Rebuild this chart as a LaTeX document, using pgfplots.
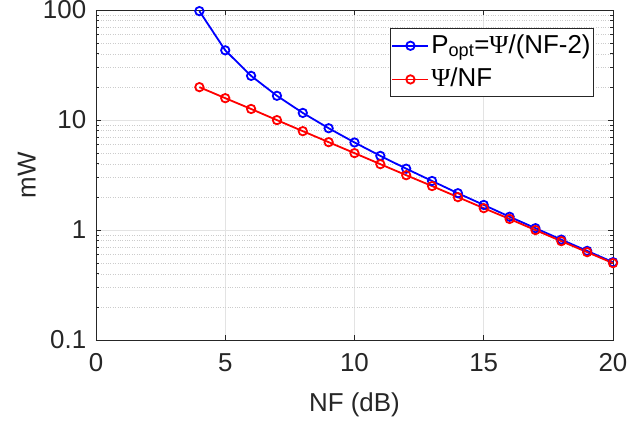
\documentclass[border=0pt]{standalone}
\usepackage{pgfplots}
\pgfplotsset{compat=1.18}
\usepackage{fontspec}
\setmainfont{Liberation Sans}
\newfontfamily\grk{Liberation Serif}
\definecolor{txt}{gray}{0.15}
\begin{document}
\fontsize{26}{30}\selectfont
\begin{tikzpicture}
\begin{axis}[
  scale only axis, width=517bp, height=330bp,
  xmin=0, xmax=20, ymode=log, ymin=0.1, ymax=100,
  xtick={0,5,10,15,20},
  ytick={0.1,1,10,100}, yticklabels={0.1,1,10,100},
  /pgf/number format/assume math mode=true,
  xmajorgrids, ymajorgrids, yminorgrids,
  major grid style={gray!22, line width=0.6pt},
  minor grid style={gray!40, dotted, line width=0.5pt},
  tick align=inside,
  major tick length=5bp, minor tick length=3bp,
  axis line style={txt, line width=0.6pt},
  every tick/.style={txt, line width=0.6pt},
  tick label style={txt, font=\fontsize{26}{30}\selectfont},
  label style={txt, font=\fontsize{26}{30}\selectfont},
  xticklabel style={yshift=-5bp},
  yticklabel style={xshift=-1bp},
  xlabel={NF (dB)}, ylabel={mW},
  xlabel style={at={(axis description cs:0.5,-0.195)}, anchor=center},
  ylabel style={at={(axis description cs:-0.134,0.5)}, anchor=center},
  legend style={at={(0.963,0.945)}, anchor=north east, draw=txt, line width=0.6pt,
    font=\fontsize{26}{30}\selectfont, text=black, cells={anchor=west},
    inner xsep=1bp, inner ysep=4bp, row sep=7bp},
  legend image code/.code={\draw[mark repeat=2,mark phase=2] plot coordinates {(0bp,0bp) (18bp,0bp) (36bp,0bp)};},
  legend image post style={line width=1.8bp},
]
\addplot[blue, line width=1.8bp, mark=o, mark size=4.2bp, mark options={line width=1.8bp}] coordinates {
(4,97.7) (5,43.0) (6,25.2) (7,16.6) (8,11.6) (9,8.42) (10,6.25) (11,4.72) (12,3.61)
(13,2.79) (14,2.16) (15,1.69) (16,1.32) (17,1.039) (18,0.818) (19,0.646) (20,0.510)};
\addlegendentry{P\textsubscript{opt}={\grk Ψ}/(NF-2)}
\addplot[red, line width=1.8bp, mark=o, mark size=4.2bp, mark options={line width=1.8bp}] coordinates {
(4,19.9) (5,15.8) (6,12.6) (7,9.98) (8,7.92) (9,6.29) (10,5.00) (11,3.97) (12,3.15)
(13,2.51) (14,1.99) (15,1.58) (16,1.26) (17,0.998) (18,0.792) (19,0.629) (20,0.500)};
\addlegendentry{{\grk Ψ}/NF}
\end{axis}
\pgfresetboundingbox
\path (current axis.south west) ++(-96bp,-83bp) rectangle ++(629bp,423bp);
\end{tikzpicture}
\end{document}
